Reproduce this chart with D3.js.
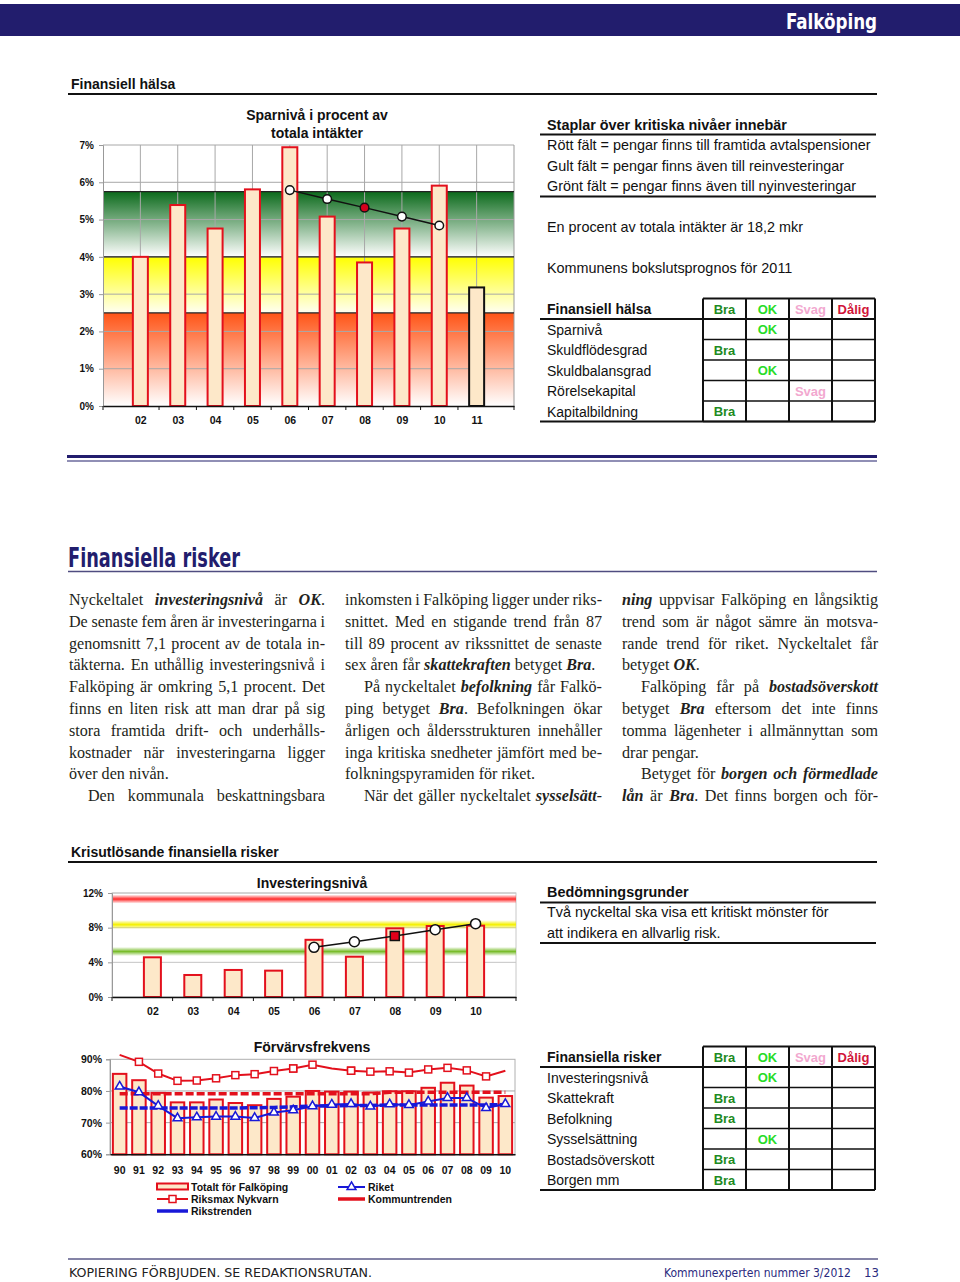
<!DOCTYPE html>
<html>
<head>
<meta charset="utf-8">
<script src="https://cdn.jsdelivr.net/npm/d3@7"></script>
<style>
body { margin: 0; background: #fff; }
svg text { font-family: "Liberation Sans", Arial, sans-serif; fill: #111; }
svg text.body { font-family: "Liberation Serif", "Times New Roman", serif; font-size: 16.1px; fill: #231f20; white-space: pre; }
svg text.cond { font-family: "DejaVu Sans Condensed", "DejaVu Sans", sans-serif; }
svg text.tick { font-size: 10px; font-weight: bold; }
</style>
</head>
<body>
<script>
//----- data -----
var sparYears = ["02", "03", "04", "05", "06", "07", "08", "09", "10", "11"];
var sparValues = [4.0, 5.39, 4.76, 5.81, 6.94, 5.08, 3.85, 4.76, 5.91, 3.18];
var sparTrendYears = ["06", "07", "08", "09", "10"];
var sparTrend = [5.79, 5.55, 5.32, 5.08, 4.84];
var sparLevels = [2.5, 4.0, 5.75]; //tops of red, yellow, green fields
var sparTicks = [0, 1, 2, 3, 4, 5, 6, 7];

var invYears = ["02", "03", "04", "05", "06", "07", "08", "09", "10"];
var invValues = [4.58, 2.54, 3.12, 3.04, 6.6, 4.65, 7.92, 8.19, 8.23];
var invTrendYears = ["06", "07", "08", "09", "10"];
var invTrend = [5.73, 6.38, 7.04, 7.77, 8.46];
var invLevels = [11.3, 8.35, 5.25]; //red, yellow, green lines
var invTicks = [0, 4, 8, 12];

var highlightYear = "08";

var fYears = ["90", "91", "92", "93", "94", "95", "96", "97", "98", "99", "00",
    "01", "02", "03", "04", "05", "06", "07", "08", "09", "10"];
var fTotal = [85.4, 83.4, 79.4, 76.4, 76.4, 77.3, 76.2, 75.5, 77.5, 78.2, 80.0,
    79.8, 79.8, 79.5, 79.9, 79.9, 81.0, 82.6, 81.7, 77.9, 78.4];
var fRiksmax = [91.4, 89.2, 85.5, 83.2, 83.3, 84.0, 85.0, 85.3, 86.3, 87.1, 88.3,
    87.1, 86.4, 86.1, 86.2, 85.8, 86.8, 87.3, 86.5, 84.6, 86.4];
var fRiket = [81.4, 79.6, 75.3, 71.4, 71.7, 71.9, 71.9, 71.5, 73.2, 73.9, 75.2,
    75.7, 75.9, 75.1, 75.8, 75.6, 76.7, 77.8, 77.8, 74.6, 75.9];
var fKommuntrend = [79.1, 79.1, 79.1, 79.1, 79.1, 79.1, 79.1, 79.1, 79.1, 79.1, 79.1,
    79.1, 79.1, 79.1, 79.6, 79.6, 79.6, 79.6, 79.6, 79.6, 79.6];
var fRikstrend = [74.6, 74.6, 74.6, 74.6, 74.6, 74.6, 74.6, 74.7, 74.8, 75.0, 75.2,
    75.3, 75.4, 75.4, 75.6, 75.6, 75.6, 75.6, 75.6, 75.6, 75.7];
var fTicks = [60, 70, 80, 90];

var gradeLabels = ["Bra", "OK", "Svag", "Dålig"];
var halsaRows = ["Sparnivå", "Skuldflödesgrad", "Skuldbalansgrad", "Rörelsekapital", "Kapitalbildning"];
var halsaGrades = ["OK", "Bra", "OK", "Svag", "Bra"];
var riskRows = ["Investeringsnivå", "Skattekraft", "Befolkning", "Sysselsättning", "Bostadsöverskott", "Borgen mm"];
var riskGrades = ["OK", "Bra", "Bra", "OK", "Bra", "Bra"];

// \t = indented line, ¶ = paragraph end (not justified), *..* = bold italic
var col1Lines = [
    "Nyckeltalet *investeringsnivå* är *OK*.",
    "De senaste fem åren är investeringarna i",
    "genomsnitt 7,1 procent av de totala in-",
    "täkterna. En uthållig investeringsnivå i",
    "Falköping är omkring 5,1 procent. Det",
    "finns en liten risk att man drar på sig",
    "stora framtida drift- och underhålls-",
    "kostnader när investeringarna ligger",
    "över den nivån.¶",
    "\tDen kommunala beskattningsbara"
];
var col2Lines = [
    "inkomsten i Falköping ligger under riks-",
    "snittet. Med en stigande trend från 87",
    "till 89 procent av rikssnittet de senaste",
    "sex åren får *skattekraften* betyget *Bra*.¶",
    "\tPå nyckeltalet *befolkning* får Falkö-",
    "ping betyget *Bra*. Befolkningen ökar",
    "årligen och åldersstrukturen innehåller",
    "inga kritiska snedheter jämfört med be-",
    "folkningspyramiden för riket.¶",
    "\tNär det gäller nyckeltalet *sysselsätt-*"
];
var col3Lines = [
    "*ning* uppvisar Falköping en långsiktig",
    "trend som är något sämre än motsva-",
    "rande trend för riket. Nyckeltalet får",
    "betyget *OK*.¶",
    "\tFalköping får på *bostadsöverskott*",
    "betyget *Bra* eftersom det inte finns",
    "tomma lägenheter i allmännyttan som",
    "drar pengar.¶",
    "\tBetyget för *borgen och förmedlade*",
    "*lån* är *Bra*. Det finns borgen och för-"
];

//----- page -----
var svg = d3.select("body").append("svg")
    .attr("width", 960)
    .attr("height", 1282);
var defs = svg.append("defs");

function vGrad(id, stops) {
    var g = defs.append("linearGradient").attr("id", id)
        .attr("x1", 0).attr("y1", 0).attr("x2", 0).attr("y2", 1);
    stops.forEach(function(s) {
        g.append("stop").attr("offset", s[0]).attr("stop-color", s[1]).attr("stop-opacity", s[2] == null ? 1 : s[2]);
    });
}
vGrad("gRed", [[0, "#ff5416"], [1, "#ffffff"]]);
vGrad("gYel", [[0, "#ffff00"], [1, "#fffff2"]]);
vGrad("gGrn", [[0, "#0b6a1b"], [1, "#ffffff"]]);
vGrad("lRed", [[0, "#ff3030", 0], [0.5, "#ff2a2a"], [1, "#ff3030", 0]]);
vGrad("lYel", [[0, "#f4f000", 0], [0.5, "#f4f000"], [1, "#f4f000", 0]]);
vGrad("lGrn", [[0, "#78bc2a", 0], [0.5, "#78bc2a"], [1, "#78bc2a", 0]]);

//header bar
svg.append("rect").attr("x", 0).attr("y", 4).attr("width", 960).attr("height", 32).style("fill", "#221d6d");
svg.append("text").attr("class", "cond")
    .attr("x", 786).attr("y", 29)
    .attr("textLength", 91).attr("lengthAdjust", "spacingAndGlyphs")
    .style("font-size", "22px").style("font-weight", "bold").style("fill", "#fff")
    .text("Falköping");

function sectionTitle(txt, y, ruleY) {
    svg.append("text").attr("x", 71).attr("y", y)
        .style("font-size", "14px").style("font-weight", "bold").text(txt);
    svg.append("line").attr("x1", 68).attr("x2", 877).attr("y1", ruleY).attr("y2", ruleY)
        .style("stroke", "#111").style("stroke-width", 2);
}
sectionTitle("Finansiell hälsa", 89, 94);
sectionTitle("Krisutlösande finansiella risker", 857, 862);

//----- chart 1: Sparnivå -----
var x1 = d3.scalePoint().domain(sparYears).range([103, 514]).padding(1);
var y1 = d3.scaleLinear().domain([0, 7]).range([406, 145]);
var c1 = svg.append("g");

var fieldFills = ["url(#gRed)", "url(#gYel)", "url(#gGrn)"];
sparLevels.forEach(function(lv, i) {
    var lo = i === 0 ? 0 : sparLevels[i - 1];
    c1.append("rect").attr("x", 103).attr("width", 411)
        .attr("y", y1(lv)).attr("height", y1(lo) - y1(lv))
        .style("fill", fieldFills[i]);
});
//grid
c1.selectAll(".hg").data(sparTicks.slice(1)).enter().append("line")
    .attr("x1", 103).attr("x2", 514)
    .attr("y1", function(d) { return y1(d); }).attr("y2", function(d) { return y1(d); })
    .style("stroke", "#a8a8a8").style("stroke-width", 1);
c1.selectAll(".vg").data(sparYears).enter().append("line")
    .attr("x1", function(d) { return x1(d); }).attr("x2", function(d) { return x1(d); })
    .attr("y1", y1(7)).attr("y2", y1(0))
    .style("stroke", "#a8a8a8").style("stroke-width", 1);
c1.append("line").attr("x1", 514).attr("x2", 514).attr("y1", y1(7)).attr("y2", y1(0)).style("stroke", "#999");
c1.selectAll(".lv").data(sparLevels).enter().append("line")
    .attr("x1", 103).attr("x2", 514)
    .attr("y1", function(d) { return y1(d); }).attr("y2", function(d) { return y1(d); })
    .style("stroke", "#222").style("stroke-width", 1.3);

//bars
c1.selectAll(".bar").data(sparValues).enter().append("rect")
    .attr("x", function(d, i) { return x1(sparYears[i]) - 7.5; })
    .attr("width", 15)
    .attr("y", function(d) { return y1(d); })
    .attr("height", function(d) { return y1(0) - y1(d); })
    .style("fill", "#fde8c9")
    .style("stroke", function(d, i) { return i === sparValues.length - 1 ? "#111" : "#e3101c"; })
    .style("stroke-width", 2);

//trend
c1.append("path")
    .datum(sparTrend)
    .attr("d", d3.line().x(function(d, i) { return x1(sparTrendYears[i]); }).y(function(d) { return y1(d); }))
    .style("fill", "none").style("stroke", "#111").style("stroke-width", 1.5);
c1.selectAll(".tp").data(sparTrend).enter().append("circle")
    .attr("cx", function(d, i) { return x1(sparTrendYears[i]); })
    .attr("cy", function(d) { return y1(d); })
    .attr("r", 4.3)
    .style("fill", function(d, i) { return sparTrendYears[i] === highlightYear ? "#d4001c" : "#fff"; })
    .style("stroke", "#111").style("stroke-width", 1.5);

//axes
var ax1 = c1.append("g").attr("transform", "translate(103,0)")
    .call(d3.axisLeft(y1).tickValues(sparTicks).tickSize(4).tickFormat(function(d) { return d + "%"; }));
ax1.select(".domain").style("stroke", "#999");
ax1.selectAll(".tick line").style("stroke", "#999");
ax1.selectAll("text").attr("class", "tick").attr("x", -9).style("font-family", null).style("font-size", null);
var bx1 = c1.append("g").attr("transform", "translate(0,406)")
    .call(d3.axisBottom(x1).tickSize(0).tickPadding(11));
bx1.select(".domain").style("stroke", "#111").style("stroke-width", 1.5);
bx1.selectAll("text").attr("class", "tick").style("font-family", null).style("font-size", "10.5px");
c1.selectAll(".bt").data(sparYears.concat(["end"])).enter().append("line")
    .attr("x1", function(d, i) { return i === 0 ? 103 : (i === sparYears.length ? 514 : x1(d) - x1.step() / 2); })
    .attr("x2", function(d, i) { return i === 0 ? 103 : (i === sparYears.length ? 514 : x1(d) - x1.step() / 2); })
    .attr("y1", 406).attr("y2", 410).style("stroke", "#111");

c1.append("text").attr("x", 317).attr("y", 120).attr("text-anchor", "middle")
    .style("font-size", "14px").style("font-weight", "bold").text("Sparnivå i procent av");
c1.append("text").attr("x", 317).attr("y", 138).attr("text-anchor", "middle")
    .style("font-size", "14px").style("font-weight", "bold").text("totala intäkter");

//----- right text block 1 -----
function plainText(txt, x, y, bold) {
    svg.append("text").attr("x", x).attr("y", y)
        .style("font-size", "14.4px").style("font-weight", bold ? "bold" : null).text(txt);
}
function rule(x1r, x2r, y, w) {
    svg.append("line").attr("x1", x1r).attr("x2", x2r).attr("y1", y).attr("y2", y)
        .style("stroke", "#111").style("stroke-width", w || 2);
}
plainText("Staplar över kritiska nivåer innebär", 547, 130, true);
rule(540, 876, 134.5);
plainText("Rött fält = pengar finns till framtida avtalspensioner", 547, 150);
plainText("Gult fält = pengar finns även till reinvesteringar", 547, 171);
plainText("Grönt fält = pengar finns även till nyinvesteringar", 547, 191);
rule(540, 876, 196.5);
plainText("En procent av totala intäkter är 18,2 mkr", 547, 232);
plainText("Kommunens bokslutsprognos för 2011", 547, 273);

//----- grade tables -----
var gradeColors = { "Bra": "#1d8a22", "OK": "#28dc28", "Svag": "#f2a8cf", "Dålig": "#d1143a" };
var colX = [703, 746, 789, 832, 875];
function gradeTable(title, rows, grades, top) {
    var rh = 20.5;
    var g = svg.append("g");
    var bottom = top + rh * (rows.length + 1);
    g.append("text").attr("x", 547).attr("y", top + 15.5)
        .style("font-size", "14px").style("font-weight", "bold").text(title);
    rows.forEach(function(r, i) {
        g.append("text").attr("x", 547).attr("y", top + rh * (i + 1) + 15.5)
            .style("font-size", "14px").text(r);
    });
    //grid in grade columns
    for (var i = 1; i <= rows.length; i++) {
        g.append("line").attr("x1", colX[0]).attr("x2", colX[4])
            .attr("y1", top + rh * i + rh).attr("y2", top + rh * i + rh)
            .style("stroke", "#111").style("stroke-width", 1.5);
    }
    colX.forEach(function(cx) {
        g.append("line").attr("x1", cx).attr("x2", cx).attr("y1", top).attr("y2", bottom)
            .style("stroke", "#111").style("stroke-width", 2);
    });
    g.append("line").attr("x1", colX[0]).attr("x2", colX[4]).attr("y1", top).attr("y2", top)
        .style("stroke", "#111").style("stroke-width", 2);
    g.append("line").attr("x1", 540).attr("x2", colX[4]).attr("y1", top + rh).attr("y2", top + rh)
        .style("stroke", "#111").style("stroke-width", 2);
    g.append("line").attr("x1", 540).attr("x2", colX[4]).attr("y1", bottom).attr("y2", bottom)
        .style("stroke", "#111").style("stroke-width", 2);
    gradeLabels.forEach(function(lab, k) {
        g.append("text").attr("x", (colX[k] + colX[k + 1]) / 2).attr("y", top + 15)
            .attr("text-anchor", "middle")
            .style("font-size", "13px").style("font-weight", "bold").style("fill", gradeColors[lab]).text(lab);
    });
    grades.forEach(function(gr, i) {
        var k = gradeLabels.indexOf(gr);
        g.append("text").attr("x", (colX[k] + colX[k + 1]) / 2).attr("y", top + rh * (i + 1) + 15)
            .attr("text-anchor", "middle")
            .style("font-size", "13px").style("font-weight", "bold").style("fill", gradeColors[gr]).text(gr);
    });
}
gradeTable("Finansiell hälsa", halsaRows, halsaGrades, 298.5);
gradeTable("Finansiella risker", riskRows, riskGrades, 1046.5);

//double rule
svg.append("line").attr("x1", 67).attr("x2", 877).attr("y1", 456.5).attr("y2", 456.5)
    .style("stroke", "#221d6d").style("stroke-width", 3);
svg.append("line").attr("x1", 67).attr("x2", 877).attr("y1", 461).attr("y2", 461)
    .style("stroke", "#6b6a9c").style("stroke-width", 1.5);

//----- Finansiella risker -----
svg.append("text").attr("class", "cond")
    .attr("x", 68).attr("y", 567)
    .attr("textLength", 172).attr("lengthAdjust", "spacingAndGlyphs")
    .style("font-size", "26px").style("font-weight", "bold").style("fill", "#221d6d")
    .text("Finansiella risker");
svg.append("line").attr("x1", 68).attr("x2", 877).attr("y1", 571.5).attr("y2", 571.5)
    .style("stroke", "#4f4d80").style("stroke-width", 1.5);

function drawColumn(lines, x0, width) {
    lines.forEach(function(line, i) {
        var indent = line.charAt(0) === "\t";
        var last = line.slice(-1) === "¶";
        var s = line.replace("\t", "").replace("¶", "");
        var tx = x0 + (indent ? 19 : 0);
        var text = svg.append("text").attr("class", "body")
            .attr("x", tx).attr("y", 605 + i * 21.8);
        s.split("*").forEach(function(part, k) {
            if (!part) return;
            text.append("tspan").text(part)
                .style("font-weight", k % 2 ? "bold" : null)
                .style("font-style", k % 2 ? "italic" : null);
        });
        if (!last) {
            var len = text.node().getComputedTextLength();
            var spaces = (s.match(/ /g) || []).length;
            if (spaces) text.style("word-spacing", ((x0 + width - tx) - len) / spaces + "px");
        }
    });
}
drawColumn(col1Lines, 69, 256);
drawColumn(col2Lines, 345, 257);
drawColumn(col3Lines, 622, 256);

//----- chart 2: Investeringsnivå -----
var x2 = d3.scalePoint().domain(invYears).range([112, 516]).padding(1);
var y2 = d3.scaleLinear().domain([0, 12]).range([997, 893]);
var c2 = svg.append("g");
c2.append("rect").attr("x", 112).attr("y", 893).attr("width", 404).attr("height", 104)
    .style("fill", "#fff").style("stroke", "#c8c8c8");
c2.selectAll(".hg").data(invTicks.slice(1)).enter().append("line")
    .attr("x1", 112).attr("x2", 516)
    .attr("y1", function(d) { return y2(d); }).attr("y2", function(d) { return y2(d); })
    .style("stroke", "#c4c4c4");
var levelFills = ["url(#lRed)", "url(#lYel)", "url(#lGrn)"];
invLevels.forEach(function(lv, i) {
    c2.append("rect").attr("x", 112).attr("width", 404)
        .attr("y", y2(lv) - 4.5).attr("height", 9).style("fill", levelFills[i]);
});
c2.selectAll(".bar").data(invValues).enter().append("rect")
    .attr("x", function(d, i) { return x2(invYears[i]) - 8.5; })
    .attr("width", 17)
    .attr("y", function(d) { return y2(d); })
    .attr("height", function(d) { return y2(0) - y2(d); })
    .style("fill", "#fde8c9").style("stroke", "#e3101c").style("stroke-width", 2);
c2.append("path")
    .datum(invTrend)
    .attr("d", d3.line().x(function(d, i) { return x2(invTrendYears[i]); }).y(function(d) { return y2(d); }))
    .style("fill", "none").style("stroke", "#111").style("stroke-width", 1.5);
invTrend.forEach(function(d, i) {
    var cx = x2(invTrendYears[i]), cy = y2(d);
    if (invTrendYears[i] === highlightYear) {
        c2.append("rect").attr("x", cx - 4.5).attr("y", cy - 4.5).attr("width", 9).attr("height", 9)
            .style("fill", "#e0001a").style("stroke", "#111").style("stroke-width", 1.5);
    } else {
        c2.append("circle").attr("cx", cx).attr("cy", cy).attr("r", 5)
            .style("fill", "#fff").style("stroke", "#111").style("stroke-width", 1.5);
    }
});
var ax2 = c2.append("g").attr("transform", "translate(112,0)")
    .call(d3.axisLeft(y2).tickValues(invTicks).tickSize(4).tickFormat(function(d) { return d + "%"; }));
ax2.select(".domain").style("stroke", "#999");
ax2.selectAll(".tick line").style("stroke", "#999");
ax2.selectAll("text").attr("class", "tick").attr("x", -9).style("font-family", null).style("font-size", null);
var bx2 = c2.append("g").attr("transform", "translate(0,997)")
    .call(d3.axisBottom(x2).tickSize(0).tickPadding(11));
bx2.select(".domain").style("stroke", "#111").style("stroke-width", 1.5);
bx2.selectAll("text").attr("class", "tick").style("font-family", null).style("font-size", "10.5px");
c2.selectAll(".bt").data(invYears.concat(["end"])).enter().append("line")
    .attr("x1", function(d, i) { return i === 0 ? 112 : (i === invYears.length ? 516 : x2(d) - x2.step() / 2); })
    .attr("x2", function(d, i) { return i === 0 ? 112 : (i === invYears.length ? 516 : x2(d) - x2.step() / 2); })
    .attr("y1", 997).attr("y2", 1001).style("stroke", "#111");
c2.append("text").attr("x", 312).attr("y", 888).attr("text-anchor", "middle")
    .style("font-size", "14px").style("font-weight", "bold").text("Investeringsnivå");

//----- right text block 2 -----
plainText("Bedömningsgrunder", 547, 897, true);
rule(540, 876, 902.5);
plainText("Två nyckeltal ska visa ett kritiskt mönster för", 547, 917);
plainText("att indikera en allvarlig risk.", 547, 938);
rule(540, 876, 943);

//----- chart 3: Förvärvsfrekvens -----
var x3 = d3.scaleBand().domain(fYears).range([110, 515]).paddingInner(0.3).paddingOuter(0.15);
var y3 = d3.scaleLinear().domain([60, 90]).range([1154.3, 1059.3]);
var c3 = svg.append("g");
c3.append("rect").attr("x", 110).attr("y", 1059.3).attr("width", 405).attr("height", 95)
    .style("fill", "#fff").style("stroke", "#b0b0b0");
c3.selectAll(".hg").data([70, 80]).enter().append("line")
    .attr("x1", 110).attr("x2", 515)
    .attr("y1", function(d) { return y3(d); }).attr("y2", function(d) { return y3(d); })
    .style("stroke", "#a8a8a8");
c3.selectAll(".bar").data(fTotal).enter().append("rect")
    .attr("x", function(d, i) { return x3(fYears[i]); })
    .attr("width", x3.bandwidth())
    .attr("y", function(d) { return y3(d); })
    .attr("height", function(d) { return y3(60) - y3(d); })
    .style("fill", "#fde8c9").style("stroke", "#e3101c").style("stroke-width", 2);

var cx3 = function(i) { return x3(fYears[i]) + x3.bandwidth() / 2; };
var line3 = d3.line().x(function(d, i) { return cx3(i); }).y(function(d) { return y3(d); });
c3.append("path").datum(fKommuntrend).attr("d", line3)
    .style("fill", "none").style("stroke", "#e3101c").style("stroke-width", 3.5).style("stroke-dasharray", "8,3");
c3.append("path").datum(fRikstrend).attr("d", line3)
    .style("fill", "none").style("stroke", "#1818d8").style("stroke-width", 3.5).style("stroke-dasharray", "8,2");
c3.append("path").datum(fRiksmax).attr("d", line3)
    .style("fill", "none").style("stroke", "#e3101c").style("stroke-width", 2);
c3.append("path").datum(fRiket).attr("d", line3)
    .style("fill", "none").style("stroke", "#1818d8").style("stroke-width", 2);
c3.selectAll(".sq").data(fRiksmax).enter().filter(function(d) { return d <= 90; }).append("rect")
    .attr("x", function(d) { return cx3(fRiksmax.indexOf(d)) - 3.5; })
    .attr("y", function(d) { return y3(d) - 3.5; })
    .attr("width", 7).attr("height", 7)
    .style("fill", "#fff").style("stroke", "#e3101c").style("stroke-width", 1.5);
var tri = d3.symbol().type(d3.symbolTriangle).size(34);
c3.selectAll(".tr").data(fRiket).enter().append("path")
    .attr("d", tri)
    .attr("transform", function(d, i) { return "translate(" + cx3(i) + "," + y3(d) + ")"; })
    .style("fill", "#fff").style("stroke", "#1818d8").style("stroke-width", 1.5);

var ax3 = c3.append("g").attr("transform", "translate(110,0)")
    .call(d3.axisLeft(y3).tickValues(fTicks).tickSize(4).tickFormat(function(d) { return d + "%"; }));
ax3.select(".domain").style("stroke", "#999");
ax3.selectAll(".tick line").style("stroke", "#999");
ax3.selectAll("text").attr("class", "tick").attr("x", -8).style("font-family", null).style("font-size", "10.5px");
var bx3 = c3.append("g").attr("transform", "translate(0,1154.3)")
    .call(d3.axisBottom(x3).tickSize(0).tickPadding(12));
bx3.select(".domain").style("stroke", "#111").style("stroke-width", 1.5);
bx3.selectAll("text").attr("class", "tick").style("font-family", null).style("font-size", "10.5px");
c3.append("text").attr("x", 312).attr("y", 1052).attr("text-anchor", "middle")
    .style("font-size", "14px").style("font-weight", "bold").text("Förvärvsfrekvens");

//legend
var lg = c3.append("g").style("font-size", "10.5px");
function legText(txt, x, y) {
    lg.append("text").attr("x", x).attr("y", y + 4).style("font-weight", "bold").style("font-size", "10.5px").text(txt);
}
lg.append("rect").attr("x", 157).attr("y", 1183.5).attr("width", 31).attr("height", 6)
    .style("fill", "#fde8c9").style("stroke", "#e3101c").style("stroke-width", 2);
legText("Totalt för Falköping", 191, 1187);
lg.append("line").attr("x1", 157).attr("x2", 188).attr("y1", 1199).attr("y2", 1199)
    .style("stroke", "#e3101c").style("stroke-width", 2);
lg.append("rect").attr("x", 169).attr("y", 1195.5).attr("width", 7).attr("height", 7)
    .style("fill", "#fff").style("stroke", "#e3101c").style("stroke-width", 1.5);
legText("Riksmax Nykvarn", 191, 1199);
lg.append("line").attr("x1", 157).attr("x2", 188).attr("y1", 1211).attr("y2", 1211)
    .style("stroke", "#1818d8").style("stroke-width", 3.5);
legText("Rikstrenden", 191, 1211);
lg.append("line").attr("x1", 338).attr("x2", 365).attr("y1", 1187).attr("y2", 1187)
    .style("stroke", "#1818d8").style("stroke-width", 2);
lg.append("path").attr("d", tri).attr("transform", "translate(351.5,1187)")
    .style("fill", "#fff").style("stroke", "#1818d8").style("stroke-width", 1.5);
legText("Riket", 368, 1187);
lg.append("line").attr("x1", 338).attr("x2", 365).attr("y1", 1199).attr("y2", 1199)
    .style("stroke", "#e3101c").style("stroke-width", 3.5);
legText("Kommuntrenden", 368, 1199);

//----- footer -----
svg.append("line").attr("x1", 68).attr("x2", 878).attr("y1", 1259).attr("y2", 1259)
    .style("stroke", "#5b5a88").style("stroke-width", 1.5);
svg.append("text").attr("class", "cond")
    .attr("x", 69).attr("y", 1277)
    .attr("textLength", 303).attr("lengthAdjust", "spacingAndGlyphs")
    .style("font-size", "13px").style("fill", "#222")
    .text("KOPIERING FÖRBJUDEN. SE REDAKTIONSRUTAN.");
svg.append("text").attr("class", "cond")
    .attr("x", 664).attr("y", 1277)
    .attr("textLength", 187).attr("lengthAdjust", "spacingAndGlyphs")
    .style("font-size", "13px").style("fill", "#2a2a7e")
    .text("Kommunexperten nummer 3/2012");
svg.append("text").attr("class", "cond")
    .attr("x", 864).attr("y", 1277)
    .style("font-size", "13px").style("fill", "#2a2a7e")
    .text("13");
</script>
</body>
</html>
